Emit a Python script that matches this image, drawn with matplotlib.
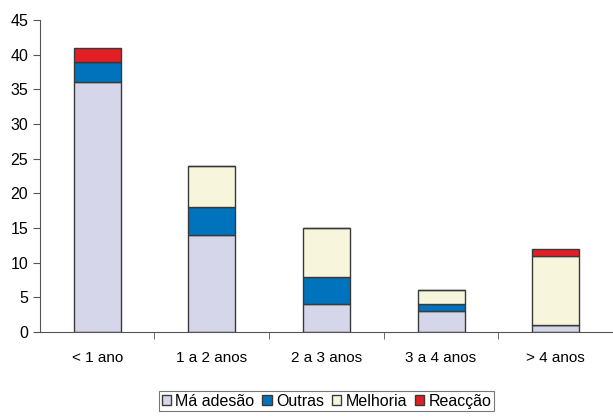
import numpy as np
import matplotlib.pyplot as plt

plt.rcParams["font.family"] = ["Liberation Sans", "DejaVu Sans"]

categorias = ["< 1 ano", "1 a 2 anos", "2 a 3 anos", "3 a 4 anos", "> 4 anos"]
ma_adesao = [36, 14, 4, 3, 1]
outras = [3, 4, 4, 1, 0]
melhoria = [0, 6, 7, 2, 10]
reaccao = [2, 0, 0, 0, 1]

series = [
    ("Má adesão", ma_adesao, "#D5D6EA"),
    ("Outras", outras, "#0073BD"),
    ("Melhoria", melhoria, "#F7F6DC"),
    ("Reacção", reaccao, "#E41E25"),
]

fig = plt.figure(figsize=(6.13, 4.16), dpi=100)
ax = fig.add_axes([0.065, 0.202, 0.935, 0.75])

x = np.arange(len(categorias))
base = np.zeros(len(categorias))
for nome, vals, cor in series:
    vals = np.array(vals, dtype=float)
    ax.bar(x, vals, 0.41, bottom=base, color=cor, edgecolor="#3a3a3a",
           linewidth=1.0, label=nome)
    base += vals

ax.set_xlim(-0.5, len(categorias) - 0.5)
ax.set_ylim(0, 45)
ax.set_yticks(range(0, 46, 5))
ax.set_xticks(x)
ax.set_xticklabels(categorias, fontsize=11)
ax.set_xticks(x[:-1] + 0.5, minor=True)
ax.tick_params(axis="x", which="major", length=0, pad=14)
ax.tick_params(axis="x", which="minor", length=5, color="#555555")
ax.tick_params(axis="y", length=5, color="#555555", labelsize=11.5)

for s in ["top", "right"]:
    ax.spines[s].set_visible(False)
for s in ["left", "bottom"]:
    ax.spines[s].set_color("#555555")

leg = ax.legend(loc="upper center", bbox_to_anchor=(0.5, -0.19), ncol=4,
                frameon=True, fancybox=False, fontsize=11.5, handlelength=0.6,
                handleheight=0.6, handletextpad=0.25, columnspacing=0.5,
                borderpad=0.15, borderaxespad=0)
leg.get_frame().set_edgecolor("#555555")
leg.get_frame().set_linewidth(0.8)

fig.savefig("out.png", dpi=100)
